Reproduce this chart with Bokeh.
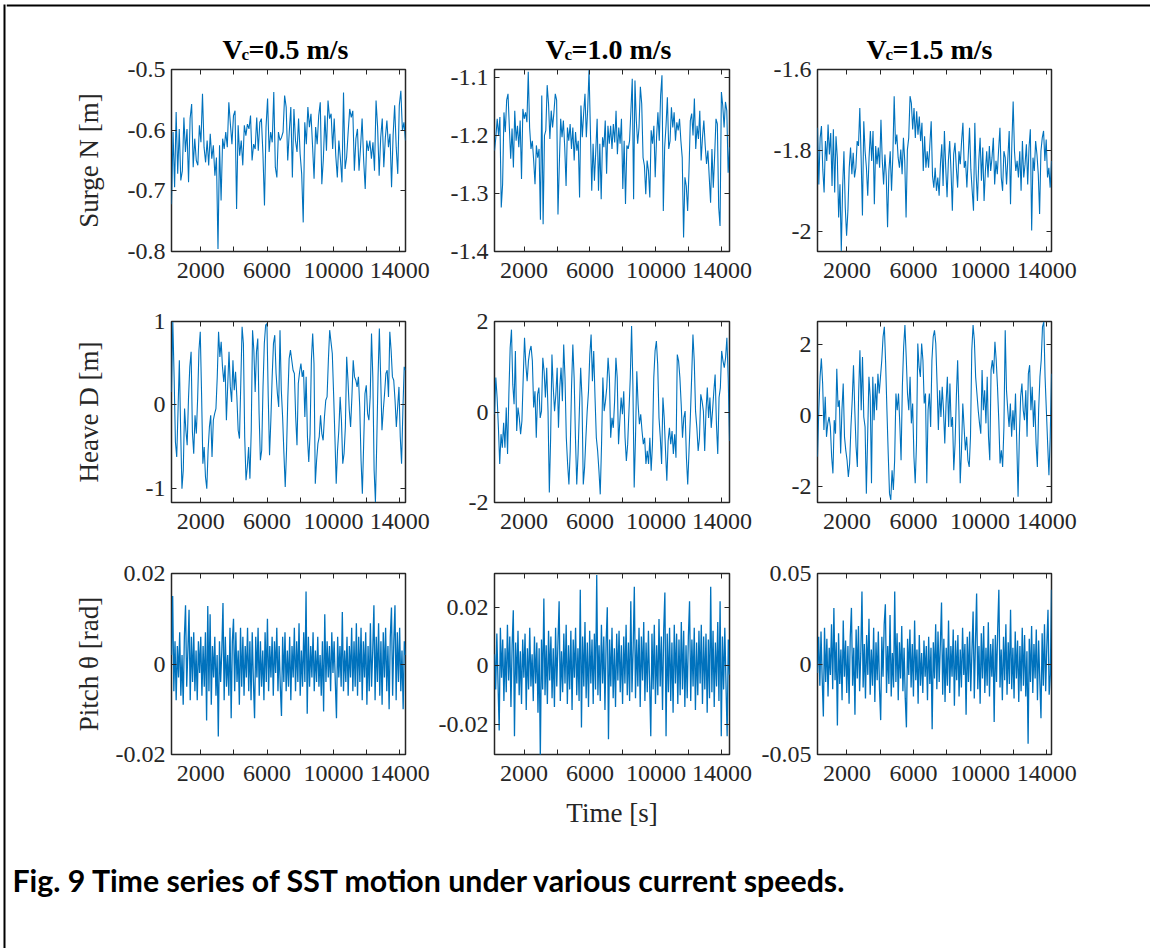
import numpy as np
from bokeh.plotting import figure
from bokeh.layouts import column, row
from bokeh.models import Range1d, FixedTicker, LinearAxis, BoxAnnotation
from bokeh.embed import file_html
from bokeh.resources import INLINE
from bokeh.core.properties import value

# ---------------- data ----------------
t_spans = [(240, 14340), (210, 14460), (230, 14290)]   # time span of the records [s], per column
speeds = ["0.5", "1.0", "1.5"]
row_labels = ["Surge N [m]", "Heave D [m]", "Pitch \u03b8 [rad]"]
x_major = [2000, 6000, 10000, 14000]
x_minor = [4000, 8000, 12000]

surge_05 = [-0.722,-0.603,-0.694,-0.570,-0.672,-0.598,-0.683,-0.667,-0.579,-0.636,-0.598,-0.686,-0.581,-0.557,-0.661,-0.614,-0.650,-0.658,-0.592,-0.620,
            -0.540,-0.628,-0.653,-0.617,-0.658,-0.606,-0.647,-0.625,-0.675,-0.645,-0.796,-0.625,-0.716,-0.614,-0.631,-0.603,-0.628,-0.554,-0.590,-0.623,
            -0.576,-0.568,-0.730,-0.592,-0.642,-0.617,-0.658,-0.592,-0.609,-0.590,-0.598,-0.576,-0.650,-0.623,-0.631,-0.579,-0.634,-0.587,-0.581,-0.639,
            -0.724,-0.595,-0.548,-0.636,-0.603,-0.620,-0.537,-0.661,-0.678,-0.603,-0.617,-0.612,-0.603,-0.543,-0.562,-0.650,-0.603,-0.562,-0.678,-0.565,
            -0.617,-0.636,-0.581,-0.639,-0.672,-0.752,-0.587,-0.623,-0.562,-0.595,-0.573,-0.625,-0.680,-0.595,-0.623,-0.576,-0.554,-0.689,-0.647,-0.576,
            -0.634,-0.551,-0.581,-0.573,-0.631,-0.581,-0.642,-0.678,-0.617,-0.647,-0.686,-0.538,-0.664,-0.645,-0.603,-0.565,-0.579,-0.568,-0.667,-0.614,
            -0.598,-0.667,-0.628,-0.581,-0.650,-0.697,-0.617,-0.634,-0.617,-0.647,-0.620,-0.667,-0.551,-0.595,-0.675,-0.612,-0.581,-0.661,-0.612,-0.584,
            -0.628,-0.606,-0.694,-0.609,-0.559,-0.628,-0.672,-0.559,-0.535,-0.601,-0.587,-0.617]

surge_10 = [-1.226,-1.203,-1.171,-1.200,-1.168,-1.324,-1.284,-1.160,-1.194,-1.139,-1.128,-1.186,-1.240,-1.188,-1.255,-1.157,-1.209,-1.183,-1.220,-1.174,
            -1.275,-1.154,-1.171,-1.160,-1.177,-1.090,-1.186,-1.223,-1.209,-1.243,-1.284,-1.217,-1.238,-1.223,-1.345,-1.131,-1.353,-1.200,-1.191,-1.113,
            -1.145,-1.206,-1.157,-1.186,-1.160,-1.128,-1.139,-1.336,-1.249,-1.171,-1.203,-1.174,-1.220,-1.287,-1.186,-1.209,-1.180,-1.223,-1.186,-1.243,
            -1.194,-1.226,-1.209,-1.307,-1.148,-1.203,-1.162,-1.128,-1.203,-1.154,-1.087,-1.191,-1.295,-1.214,-1.278,-1.226,-1.171,-1.295,-1.214,-1.310,
            -1.203,-1.220,-1.174,-1.266,-1.183,-1.214,-1.183,-1.223,-1.180,-1.212,-1.157,-1.232,-1.186,-1.214,-1.171,-1.292,-1.209,-1.318,-1.217,-1.223,
            -1.209,-1.157,-1.102,-1.310,-1.105,-1.174,-1.214,-1.186,-1.116,-1.145,-1.238,-1.252,-1.301,-1.243,-1.261,-1.307,-1.191,-1.214,-1.183,-1.272,
            -1.203,-1.160,-1.209,-1.131,-1.096,-1.330,-1.220,-1.183,-1.134,-1.223,-1.209,-1.151,-1.186,-1.160,-1.209,-1.177,-1.191,-1.171,-1.209,-1.238,
            -1.376,-1.272,-1.287,-1.330,-1.261,-1.174,-1.162,-1.200,-1.136,-1.223,-1.183,-1.206,-1.157,-1.243,-1.203,-1.174,-1.217,-1.249,-1.226,-1.272,
            -1.316,-1.223,-1.290,-1.235,-1.171,-1.180,-1.324,-1.356,-1.125,-1.148,-1.186,-1.142,-1.157,-1.264,-1.220]

surge_15 = [-1.744,-1.884,-1.769,-1.740,-1.847,-1.904,-1.777,-1.826,-1.736,-1.810,-1.757,-1.888,-1.748,-1.904,-1.765,-1.818,-1.966,-1.884,-2.049,-1.892,
            -1.802,-1.941,-2.011,-1.949,-1.843,-1.793,-1.859,-1.806,-1.867,-1.843,-1.777,-1.789,-1.695,-1.818,-1.961,-1.728,-1.802,-1.843,-1.912,-1.818,
            -1.752,-1.826,-1.752,-1.933,-1.789,-1.834,-1.793,-1.843,-1.724,-1.826,-1.884,-1.810,-1.863,-1.990,-1.851,-1.802,-1.900,-1.814,-1.666,-1.785,
            -1.761,-1.818,-1.843,-1.798,-1.859,-1.769,-1.826,-1.966,-1.798,-1.769,-1.666,-1.683,-1.748,-1.695,-1.769,-1.703,-1.761,-1.716,-1.777,-1.732,
            -1.851,-1.765,-1.843,-1.802,-1.843,-1.785,-1.728,-1.863,-1.892,-1.843,-1.900,-1.867,-1.912,-1.834,-1.785,-1.888,-1.752,-1.843,-1.916,-1.826,
            -1.777,-1.851,-1.949,-1.810,-1.781,-1.843,-1.892,-1.802,-1.834,-1.777,-1.732,-1.843,-1.826,-1.892,-1.814,-1.744,-1.847,-1.900,-1.949,-1.732,
            -1.859,-1.925,-1.826,-1.769,-1.875,-1.793,-1.925,-1.851,-1.802,-1.867,-1.789,-1.851,-1.818,-1.769,-1.884,-1.826,-1.859,-1.798,-1.744,-1.867,
            -1.900,-1.802,-1.818,-1.884,-1.818,-1.752,-1.933,-1.785,-1.679,-1.802,-1.851,-1.826,-1.867,-1.802,-1.900,-1.777,-1.867,-1.834,-1.785,-1.884,
            -1.793,-1.748,-1.998,-1.818,-1.851,-1.777,-1.810,-1.859,-1.957,-1.802,-1.769,-1.752,-1.826,-1.773,-1.867,-1.843,-1.892,-1.826]

heave_05 = [0.156,1.000,0.336,-0.444,-0.624,-0.064,0.536,-0.304,-1.004,-0.784,-0.044,-0.304,-0.484,0.076,0.456,0.636,-0.324,-0.584,-0.124,-0.344,
            0.076,0.656,0.876,0.136,-0.704,-0.504,-0.864,-1.004,-0.544,-0.264,-0.124,-0.624,-0.184,-0.104,-0.044,0.336,0.876,0.576,0.756,0.456,
            0.276,0.476,-0.184,0.236,0.636,0.216,0.036,0.536,0.176,0.396,0.096,-0.304,-0.404,0.256,0.936,0.736,-0.384,-0.904,-0.744,-0.504,
            -0.884,-0.304,0.896,0.656,0.156,0.636,0.796,-0.104,-0.664,-0.544,0.216,0.736,0.956,0.976,0.096,-0.604,-0.184,0.336,0.736,0.836,
            0.376,0.136,-0.024,0.896,0.176,-0.144,-0.584,-0.984,-0.544,0.096,0.556,0.656,0.536,0.416,0.376,-0.144,-0.484,0.256,0.396,0.496,
            0.336,0.416,-0.144,0.336,-0.384,-0.684,-0.344,0.536,0.856,0.496,-0.944,-0.664,-0.464,-0.384,-0.124,-0.344,-0.424,-0.144,0.056,0.096,
            0.536,0.896,0.756,0.616,0.136,-0.384,-0.944,-0.544,-0.304,0.096,-0.184,-0.704,-0.584,-0.264,0.576,0.296,-0.064,-0.264,0.096,0.536,
            0.336,0.296,0.216,0.336,-0.024,-0.664,-1.064,-0.464,0.136,0.236,-0.104,-0.184,0.096,0.856,0.336,-0.784,-1.164,-0.464,0.336,0.916,
            0.336,-0.304,-0.064,0.136,0.376,0.416,0.096,0.876,0.656,0.336,0.296,0.056,-0.264,-0.024,0.216,-0.384,-0.704,-0.064,0.456,0.416]

heave_10 = [-0.05,0.76,0.32,-0.35,-1.15,-0.49,-0.79,-0.24,-0.79,0.10,-0.93,0.39,1.42,1.82,0.61,0.17,1.35,-0.42,0.10,-0.13,
            -0.49,-0.20,0.76,1.64,1.05,0.68,1.13,1.35,1.46,1.13,0.10,0.46,-0.57,0.39,0.54,-0.13,0.02,1.20,0.90,0.32,
            0.98,0.02,-1.78,-0.57,1.27,0.54,0.02,0.39,0.98,-0.35,0.54,0.98,0.24,1.49,0.76,-0.57,-1.15,-1.60,-0.86,0.54,
            1.49,0.76,-0.57,-1.60,-0.93,0.02,0.98,0.32,-1.60,-1.23,-0.57,0.02,0.46,1.27,1.71,0.68,1.35,0.32,-0.57,-0.86,
            -1.30,-1.82,-0.71,0.76,0.02,0.24,0.54,1.20,0.76,-0.57,-0.13,-0.35,0.24,1.20,0.76,-0.71,-0.20,0.32,-0.05,0.46,
            -0.57,-1.08,-0.71,0.02,0.76,1.90,0.61,-1.67,-0.57,0.90,0.17,-0.27,-0.05,-0.42,-0.71,-0.57,-1.15,-0.86,-1.15,-0.57,
            -1.30,-0.71,0.76,1.35,1.57,1.05,-0.13,-0.57,-1.15,0.32,-0.13,-0.86,-1.52,-0.64,-0.35,-0.71,-0.42,-0.93,-0.49,-1.01,
            1.27,1.13,0.76,0.17,-0.57,-0.13,0.02,-1.01,-1.60,-0.86,-0.13,0.76,1.71,1.13,0.02,-0.35,-0.86,-0.57,0.39,0.24,
            0.02,-0.86,0.02,0.54,-0.13,0.32,-0.35,0.02,0.46,0.83,-0.27,-0.93,0.32,0.54,1.35,1.13,0.98,1.20,1.64,0.76,-0.64]

heave_15 = [-1.17,0.14,1.08,1.60,0.89,-0.42,0.52,-0.61,-0.23,-0.05,-0.33,-1.17,-1.64,-0.14,-0.52,1.31,0.23,0.42,-1.08,0.14,
            0.89,-0.61,-0.99,-1.27,-1.74,-1.36,-0.33,0.42,1.41,0.14,-0.89,-1.46,0.61,1.83,0.14,1.64,-0.05,-0.33,-2.21,-0.61,
            1.08,0.52,-1.92,1.08,-0.14,0.89,0.14,1.17,0.61,1.08,1.55,2.21,2.49,1.46,0.14,-1.08,-2.21,-2.39,-1.55,-2.11,
            -1.27,0.61,0.14,0.61,-0.23,-1.27,0.80,1.92,2.54,1.64,0.61,0.14,1.08,-0.23,0.33,-1.17,-1.92,-0.80,2.02,1.36,
            1.08,2.02,1.55,0.33,0.61,-1.92,0.14,0.61,-0.33,1.55,2.21,2.39,2.02,0.89,-0.42,0.70,-0.05,0.80,0.14,-0.80,
            0.33,1.08,-0.33,0.89,-0.33,-0.05,-1.55,-0.80,0.52,1.55,0.14,-1.92,-0.99,0.33,-0.33,-0.99,-0.61,-1.27,-1.46,-0.61,
            1.83,2.54,2.11,1.08,0.61,0.14,-0.23,-0.52,1.27,0.14,0.70,-0.23,1.08,-0.61,-1.27,1.27,1.55,1.17,2.07,1.55,
            0.80,-0.14,-1.36,-0.99,-1.46,-0.33,2.39,0.70,0.14,-0.33,0.33,-0.61,0.14,-0.42,0.61,-0.80,-2.30,-0.61,0.52,0.89,
            0.14,-0.14,0.70,-0.61,1.17,1.41,0.14,0.80,-0.33,0.42,-0.80,-1.46,0.14,1.08,1.55,2.49,2.63,1.08,0.14,-0.80,
            -1.69,-0.61,1.17]

pitch_05 = [0.002,0.015,-0.006,0.005,-0.008,0.004,-0.003,0.007,-0.007,0.002,-0.009,0.006,0.013,-0.005,0.003,0.012,-0.008,0.006,-0.004,0.007,
            -0.006,0.003,-0.008,0.005,-0.002,0.006,-0.007,0.004,-0.005,0.007,-0.0125,0.0128,-0.006,0.011,-0.009,0.004,-0.003,0.006,-0.007,0.002,
            -0.016,0.005,-0.004,0.003,0.0135,-0.008,0.006,-0.005,0.002,-0.007,0.008,-0.012,0.005,0.010,-0.006,0.007,-0.004,0.003,-0.009,0.008,
            -0.005,0.006,-0.007,0.004,-0.003,0.008,-0.006,0.005,-0.008,0.007,-0.004,-0.012,0.006,-0.003,0.008,-0.007,0.005,-0.005,0.003,-0.008,
            0.007,-0.004,0.010,-0.006,0.004,-0.003,0.006,-0.007,0.005,-0.002,0.008,-0.006,0.004,-0.005,-0.0115,0.006,-0.004,0.007,-0.006,0.003,
            -0.005,0.006,-0.008,0.004,-0.003,0.008,-0.006,0.005,-0.004,0.009,-0.007,0.003,-0.005,0.007,-0.004,0.016,-0.011,0.006,-0.005,0.004,
            -0.003,0.007,-0.006,0.003,-0.004,0.006,-0.005,0.002,-0.007,0.005,-0.0105,0.011,-0.004,0.005,-0.003,0.004,-0.006,0.007,-0.002,0.005,
            -0.004,-0.012,0.006,-0.003,0.004,-0.005,0.0115,-0.006,0.003,-0.004,0.006,-0.007,0.004,-0.003,0.008,-0.006,0.005,-0.005,0.009,-0.007,
            0.006,-0.004,0.008,-0.008,0.005,-0.003,0.007,-0.009,0.004,-0.006,0.009,-0.005,0.003,0.013,-0.008,0.006,-0.004,0.009,-0.007,0.005,
            -0.009,0.007,-0.003,0.008,-0.006,0.004,-0.010,0.006,0.0125,-0.007,0.005,0.013,-0.008,0.007,-0.004,0.008,-0.006,0.003,-0.010,0.005,
            0.002]

pitch_10 = [0.004,-0.008,0.011,-0.006,-0.022,0.013,-0.004,0.009,-0.012,0.006,-0.009,0.014,-0.005,0.010,-0.014,0.007,0.019,-0.024,0.008,-0.006,
            0.012,-0.010,0.005,-0.013,0.009,-0.004,0.011,-0.015,0.006,-0.008,0.013,-0.007,0.004,-0.012,0.010,-0.006,0.008,-0.016,0.006,-0.031,
            0.009,-0.008,0.023,-0.010,0.007,-0.013,0.012,-0.005,0.010,-0.011,0.006,-0.014,0.013,-0.007,0.008,0.022,-0.012,0.005,-0.009,0.011,
            -0.006,0.014,-0.013,0.007,-0.008,0.012,-0.015,0.009,-0.004,0.013,-0.010,0.006,-0.012,0.026,-0.021,0.010,-0.007,0.015,-0.011,0.008,
            -0.014,0.012,-0.006,0.009,-0.013,0.011,-0.008,0.031,-0.010,0.007,-0.012,0.014,-0.006,0.010,-0.015,0.008,0.020,-0.025,0.009,-0.007,
            0.013,-0.011,0.006,-0.014,0.011,-0.005,0.012,-0.009,0.007,-0.013,0.010,-0.006,0.014,-0.010,0.008,-0.012,0.022,-0.009,0.006,0.027,
            -0.011,0.009,-0.007,0.013,-0.014,0.010,-0.005,0.015,-0.012,0.008,-0.009,0.012,-0.006,-0.024,0.011,-0.008,0.014,-0.013,0.007,-0.010,
            0.016,-0.007,0.010,-0.015,0.012,0.025,-0.024,0.011,-0.009,0.013,-0.012,0.008,-0.016,0.014,-0.006,0.011,-0.013,0.009,-0.010,0.015,
            -0.008,0.012,-0.014,0.007,-0.011,0.010,0.022,-0.012,0.009,-0.007,0.013,-0.015,0.008,-0.010,0.012,-0.006,0.014,-0.013,0.010,-0.008,
            0.011,-0.016,0.009,-0.011,0.027,-0.009,0.012,-0.014,0.008,-0.007,0.015,-0.012,0.022,-0.024,0.010,-0.008,0.013,-0.006,-0.024,0.009,
            -0.003]

pitch_15 = [-0.005,0.015,-0.012,0.018,-0.008,-0.029,0.020,-0.010,0.014,-0.018,0.009,-0.006,0.022,-0.014,0.031,-0.009,0.012,-0.034,0.017,-0.011,
            0.008,-0.020,0.024,-0.007,0.013,-0.016,0.010,-0.022,0.015,0.031,-0.012,0.009,-0.028,0.019,-0.008,0.021,-0.015,0.006,0.040,-0.013,
            0.011,-0.019,0.016,-0.006,0.025,-0.017,0.008,-0.012,0.020,-0.021,0.012,-0.009,0.018,-0.014,-0.031,0.015,-0.007,0.022,0.033,-0.016,
            0.010,-0.011,0.027,-0.018,0.006,-0.013,0.040,-0.010,0.017,-0.020,0.012,-0.008,0.021,-0.015,0.009,-0.019,-0.035,0.014,-0.006,0.019,
            -0.013,0.011,-0.018,0.024,-0.009,0.008,-0.022,0.016,-0.012,0.006,-0.016,0.013,-0.007,0.010,-0.020,0.015,-0.011,0.009,-0.036,0.012,
            -0.008,0.022,-0.014,0.018,-0.010,0.011,0.034,-0.017,0.014,-0.021,0.009,-0.012,0.024,-0.016,0.010,-0.007,0.019,-0.023,0.013,-0.009,
            0.016,-0.018,0.008,-0.013,0.020,-0.006,0.011,-0.028,0.015,-0.010,0.018,-0.015,0.007,0.029,-0.019,0.012,0.039,-0.014,0.010,-0.022,
            0.017,-0.008,0.021,-0.016,0.009,-0.012,0.023,-0.018,0.011,-0.007,0.014,-0.032,0.016,-0.010,0.019,0.041,-0.013,0.008,-0.020,0.015,
            -0.009,0.022,-0.017,0.012,-0.011,0.030,-0.014,0.009,-0.019,0.018,-0.008,0.013,-0.021,0.010,-0.015,0.020,-0.012,0.016,-0.018,0.007,
            -0.044,0.014,-0.010,0.021,-0.016,0.011,-0.008,0.019,-0.020,0.013,-0.009,-0.030,0.017,-0.012,0.022,-0.015,0.010,0.030,-0.017,-0.006,
            0.041]

series = [[surge_05, surge_10, surge_15],
          [heave_05, heave_10, heave_15],
          [pitch_05, pitch_10, pitch_15]]

y_limits = [[(-0.8, -0.5), (-1.4, -1.086), (-2.05, -1.6)],
            [(-1.17, 1.0), (-2.0, 2.0), (-2.46, 2.64)],
            [(-0.02, 0.02), (-0.0302, 0.0315), (-0.05, 0.05)]]
y_ticks = [[[-0.8, -0.7, -0.6, -0.5], [-1.4, -1.3, -1.2, -1.1], [-2.0, -1.8, -1.6]],
           [[-1, 0, 1], [-2, 0, 2], [-2, 0, 2]],
           [[-0.02, 0, 0.02], [-0.02, 0, 0.02], [-0.05, 0, 0.05]]]
y_tick_labels = [[["-0.8", "-0.7", "-0.6", "-0.5"], ["-1.4", "-1.3", "-1.2", "-1.1"], ["-2", "-1.8", "-1.6"]],
                 [["-1", "0", "1"], ["-2", "0", "2"], ["-2", "0", "2"]],
                 [["-0.02", "0", "0.02"], ["-0.02", "0", "0.02"], ["-0.05", "0", "0.05"]]]

# ---------------- layout / style ----------------
SERIF = "Liberation Serif"
AX = "#262626"
LINE = "#0072BD"
LEFT_PAD = 6
HEAD_H = 61          # header canvas height (titles + top frame line)
HEAD_OVERLAP = 6     # first panel row slides under the header by this much
FRAME_W = [234, 235, 234]
FRAME_H = [182, 181, 181]
BORDER_L = [165, 63, 62]
BORDER_R = [26, 26, 99]
BORDER_T = [69 - (HEAD_H - HEAD_OVERLAP), 34, 35]
BORDER_B = [36, 36, 80]
YLAB_STANDOFF = [21, 39, 9]
TICK_FS = "24px"
LAB_FS = "27px"
MAIN_W = sum(BORDER_L[c] + FRAME_W[c] + BORDER_R[c] for c in range(3))
TITLE_X = [222, 545, 866]          # page x of the "V" of each column title
TITLE_BASE, SUB_BASE = 49, 54      # page y of the title / subscript baselines


def style_axis(ax, labels=True):
    ax.axis_line_color = None
    ax.major_tick_line_color = AX
    ax.minor_tick_line_color = AX
    ax.major_tick_line_width = 1
    ax.minor_tick_line_width = 1
    ax.major_tick_in = 5
    ax.major_tick_out = 0
    ax.minor_tick_in = 5
    ax.minor_tick_out = 0
    if labels:
        ax.major_label_text_font = SERIF
        ax.major_label_text_font_size = TICK_FS
        ax.major_label_text_color = AX
        ax.major_label_standoff = 6
    else:
        ax.major_label_text_font_size = "0px"
        ax.major_label_text_color = None
        ax.major_label_text_alpha = 0
        ax.major_label_standoff = 0


def make_panel(r, c):
    vals = series[r][c]
    t0, t1 = t_spans[c]
    t = np.linspace(t0, t1, len(vals))
    ylo, yhi = y_limits[r][c]
    w = BORDER_L[c] + FRAME_W[c] + BORDER_R[c]
    h = BORDER_T[r] + FRAME_H[r] + BORDER_B[r]
    p = figure(width=w, height=h, output_backend="svg", toolbar_location=None,
               x_range=Range1d(t0, t1), y_range=Range1d(ylo, yhi),
               min_border_left=BORDER_L[c], min_border_right=BORDER_R[c],
               min_border_top=BORDER_T[r], min_border_bottom=BORDER_B[r],
               x_axis_type=None, y_axis_type=None)
    p.line(t, vals, line_color=LINE, line_width=1.3 if r == 2 else 1.1)
    xt = FixedTicker(ticks=x_major, minor_ticks=x_minor)
    yt = FixedTicker(ticks=y_ticks[r][c], minor_ticks=[])
    xb = LinearAxis(ticker=xt)
    style_axis(xb)
    xb.major_label_standoff = 11
    p.add_layout(xb, "below")
    xa = LinearAxis(ticker=xt)
    style_axis(xa, labels=False)
    p.add_layout(xa, "above")
    yl = LinearAxis(ticker=yt)
    style_axis(yl)
    yl.major_label_overrides = dict(zip(y_ticks[r][c], y_tick_labels[r][c]))
    p.add_layout(yl, "left")
    yr = LinearAxis(ticker=yt)
    style_axis(yr, labels=False)
    p.add_layout(yr, "right")
    if c == 0:
        yl.axis_label = row_labels[r]
        yl.axis_label_text_font = SERIF
        yl.axis_label_text_font_size = LAB_FS
        yl.axis_label_text_font_style = "normal"
        yl.axis_label_text_color = AX
        yl.axis_label_standoff = YLAB_STANDOFF[r]
    if r == 2 and c == 1:
        xb.axis_label = "Time [s]"
        xb.axis_label_text_font = SERIF
        xb.axis_label_text_font_size = LAB_FS
        xb.axis_label_text_font_style = "normal"
        xb.axis_label_text_color = AX
        xb.axis_label_standoff = 14
    p.xgrid.visible = False
    p.ygrid.visible = False
    p.outline_line_color = AX
    p.outline_line_width = 1.5
    p.background_fill_color = "white"
    # transparent outside the axes box, so the header above stays visible where rows overlap
    p.border_fill_color = None
    return p


def blank(width, height, x0, y_top):
    # a plain canvas whose data units are the page's pixels
    f = figure(width=width, height=height, output_backend="svg", toolbar_location=None,
               x_range=Range1d(x0, x0 + width), y_range=Range1d(y_top + height, y_top),
               min_border=0, x_axis_type=None, y_axis_type=None)
    f.outline_line_color = None
    f.xgrid.visible = False
    f.ygrid.visible = False
    f.border_fill_color = "white"
    f.background_fill_color = "white"
    return f


# header: column titles V_c = ... m/s and the top frame line
head = blank(MAIN_W, HEAD_H, LEFT_PAD, 0)
head.margin = (0, 0, -HEAD_OVERLAP, 0)
head.add_layout(BoxAnnotation(left=LEFT_PAD, right=LEFT_PAD + MAIN_W, top=4, bottom=6,
                              fill_color="black", fill_alpha=1, line_color=None))
head.text(x=TITLE_X, y=[TITLE_BASE] * 3, text=["V"] * 3, text_font=value(SERIF),
          text_font_style="bold", text_font_size="28px", text_color="black",
          text_align="left", text_baseline="alphabetic")
head.text(x=[x + 19 for x in TITLE_X], y=[SUB_BASE] * 3, text=["c"] * 3, text_font=value(SERIF),
          text_font_style="bold", text_font_size="17px", text_color="black",
          text_align="left", text_baseline="alphabetic")
head.text(x=[x + 26 for x in TITLE_X], y=[TITLE_BASE] * 3, text=["=" + s + " m/s" for s in speeds],
          text_font=value(SERIF), text_font_style="bold", text_font_size="28px",
          text_color="black", text_align="left", text_baseline="alphabetic")

rows = [head]
for r in range(3):
    rows.append(row([make_panel(r, c) for c in range(3)], spacing=0))

used = HEAD_H - HEAD_OVERLAP + sum(BORDER_T[r] + FRAME_H[r] + BORDER_B[r] for r in range(3))
FOOT_H = 948 - used
foot = blank(MAIN_W, FOOT_H, LEFT_PAD, used)
foot.text(x=[12], y=[879], text=["Fig. 9 Time series of SST motion under various current speeds."],
          text_font=value("Lato"), text_font_style="bold", text_font_size="30.3px",
          text_color="black", text_align="left", text_baseline="alphabetic")
rows.append(foot)

# left frame line
side = blank(LEFT_PAD, 948, 0, 0)
side.add_layout(BoxAnnotation(left=3, right=5, top=4, bottom=948,
                              fill_color="black", fill_alpha=1, line_color=None))

layout = row([side, column(rows, spacing=0)], spacing=0)

open("out.html", "w").write(file_html(layout, INLINE))
